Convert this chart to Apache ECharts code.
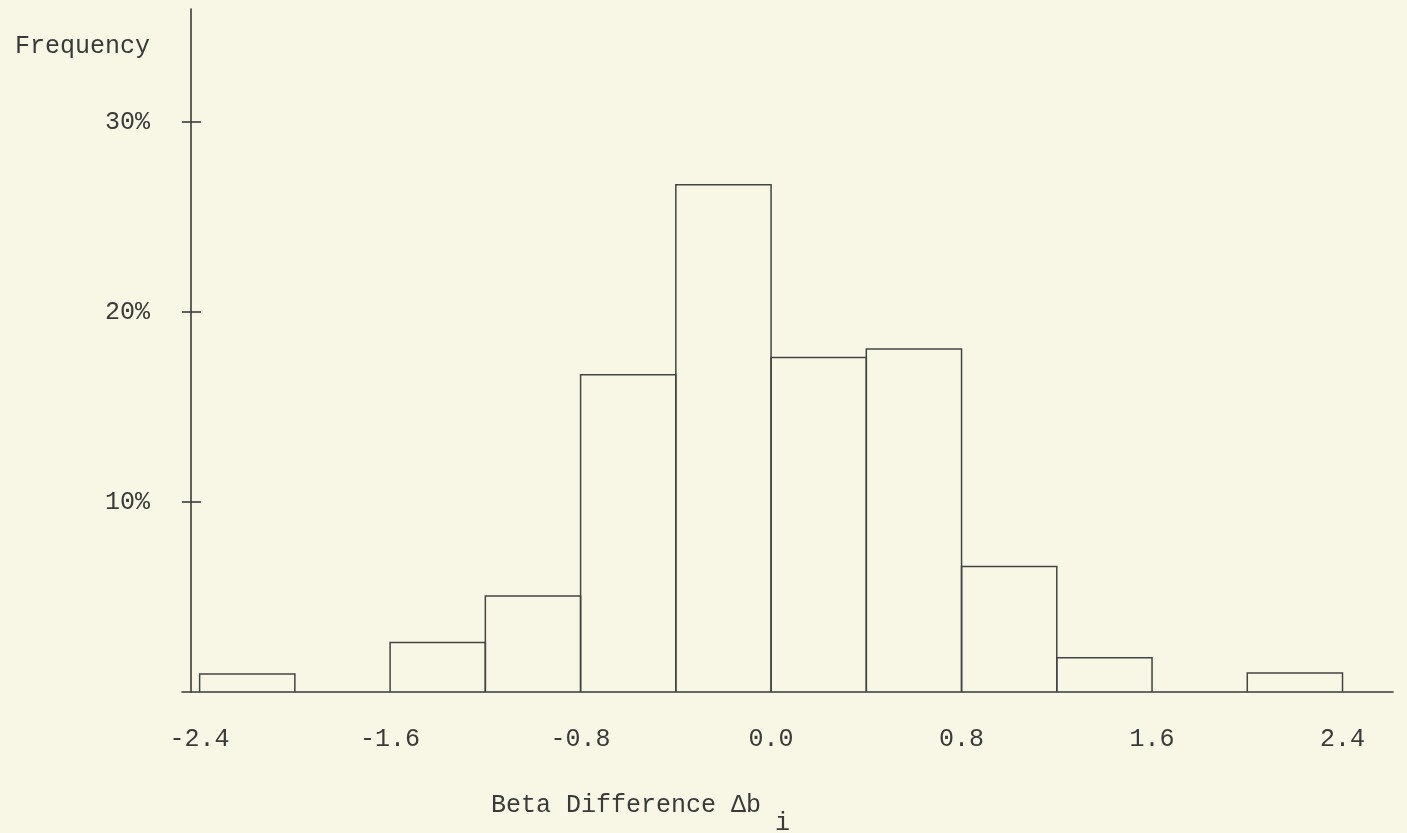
<!DOCTYPE html>
<html>
<head>
<meta charset="utf-8">
<script src="https://cdn.jsdelivr.net/npm/echarts@6/dist/echarts.min.js"></script>
<style>
html,body{margin:0;padding:0;background:#f8f7e6;}
#c{width:1407px;height:833px;}
</style>
</head>
<body>
<div id="c"></div>
<script>
// Histogram bins (beta difference) and their frequencies (%)
var binLow  = [-2.4, -1.6, -1.2, -0.8, -0.4, 0.0, 0.4, 0.8, 1.2, 2.0];
var binHigh = [-2.0, -1.2, -0.8, -0.4,  0.0, 0.4, 0.8, 1.2, 1.6, 2.4];
var freqPct = [0.95, 2.6, 5.05, 16.7, 26.7, 17.6, 18.05, 6.6, 1.8, 1.0];

var xTickValues = [-2.4, -1.6, -0.8, 0.0, 0.8, 1.6, 2.4];
var xTickLabels = ['-2.4', '-1.6', '-0.8', '0.0', '0.8', '1.6', '2.4'];
var yTickValues = [10, 20, 30];
var yTickLabels = ['10%', '20%', '30%'];

var FONT = '"Liberation Mono", "DejaVu Sans Mono", monospace';
var INK = '#3a3a3a';

var data = binLow.map(function (lo, i) { return [lo, binHigh[i], freqPct[i]]; });

var chart = echarts.init(document.getElementById('c'), null, {renderer: 'canvas'});
chart.setOption({
  backgroundColor: '#f8f7e6',
  animation: false,
  title: [
    {text: 'Frequency', left: 10, top: 29,
     textStyle: {fontFamily: FONT, fontSize: 25, fontWeight: 'normal', color: INK}},
    {text: 'Beta Difference Δb', left: 486, top: 788,
     textStyle: {fontFamily: FONT, fontSize: 25, fontWeight: 'normal', color: INK}},
    {text: 'i', left: 770, top: 806,
     textStyle: {fontFamily: FONT, fontSize: 25, fontWeight: 'normal', color: INK}}
  ],
  grid: {left: 182, right: 14, top: 9, bottom: 141, containLabel: false},
  xAxis: {
    type: 'value', min: -2.474, max: 2.612,
    axisLine: {show: true, onZero: false, lineStyle: {color: INK, width: 1.6}},
    axisTick: {show: false},
    splitLine: {show: false},
    axisLabel: {
      show: true, customValues: xTickValues, margin: 35,
      fontFamily: FONT, fontSize: 25, color: INK,
      formatter: function (v) {
        var i = xTickValues.findIndex(function (t) { return Math.abs(t - v) < 1e-6; });
        return i >= 0 ? xTickLabels[i] : '';
      }
    }
  },
  yAxis: [{
    type: 'value', min: 0, max: 35.95, offset: -9,
    axisLine: {show: true, onZero: false, lineStyle: {color: INK, width: 1.6}},
    axisTick: {show: true, customValues: yTickValues, length: 9, lineStyle: {color: INK, width: 1.6}},
    splitLine: {show: false},
    axisLabel: {
      show: true, customValues: yTickValues, margin: 41,
      fontFamily: FONT, fontSize: 25, color: INK,
      formatter: function (v) {
        var i = yTickValues.findIndex(function (t) { return Math.abs(t - v) < 1e-6; });
        return i >= 0 ? yTickLabels[i] : '';
      }
    }
  }, {
    type: 'value', min: 0, max: 35.95, offset: -9, position: 'left',
    axisLine: {show: false, onZero: false},
    axisTick: {show: true, inside: true, customValues: yTickValues, length: 10, lineStyle: {color: INK, width: 1.6}},
    splitLine: {show: false},
    axisLabel: {show: false}
  }],
  series: [{
    type: 'custom',
    xAxisIndex: 0, yAxisIndex: 0,
    data: data,
    renderItem: function (params, api) {
      var p0 = api.coord([api.value(0), 0]);
      var p1 = api.coord([api.value(1), api.value(2)]);
      return {
        type: 'polyline',
        shape: {points: [[p0[0], p0[1]], [p0[0], p1[1]], [p1[0], p1[1]], [p1[0], p0[1]]]},
        style: {fill: null, stroke: '#444', lineWidth: 1.5}
      };
    }
  }]
});
</script>
</body>
</html>
